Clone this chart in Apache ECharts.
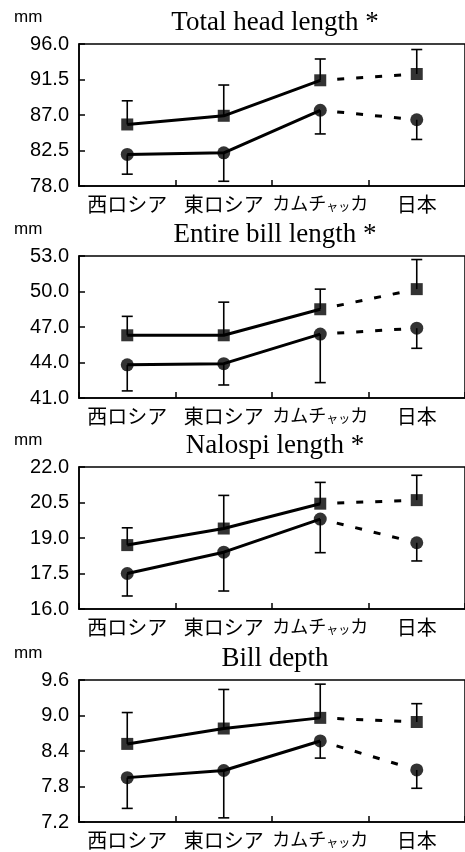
<!DOCTYPE html>
<html><head><meta charset="utf-8">
<script src="https://cdn.jsdelivr.net/npm/echarts@6/dist/echarts.min.js"></script>
<style>html,body{margin:0;padding:0;background:#fff}#c{width:465px;height:852px}</style>
</head><body><div id="c"></div>
<script>
// ---- data ----
const categories = ['西ロシア', '東ロシア', 'カムチャッカ', '日本'];
const titles = ['Total head length *', 'Entire bill length *', 'Nalospi length *', 'Bill depth'];
const unitLabel = 'mm';
const yMin = [78, 41, 16, 7.2];
const yMax = [96, 53, 22, 9.6];
const yStep = [4.5, 3, 1.5, 0.6];

// Total head length
const headSq = [85.8, 86.9, 91.4, 92.2];
const headSqSD = [3.0, 3.9, 2.7, 3.1];
const headCi = [82.0, 82.2, 87.6, 86.4];
const headCiSD = [2.5, 3.6, 3.0, 2.5];
// Entire bill length
const billSq = [46.3, 46.3, 48.5, 50.2];
const billSqSD = [1.6, 2.8, 1.7, 2.5];
const billCi = [43.8, 43.9, 46.4, 46.9];
const billCiSD = [2.2, 1.8, 4.1, 1.7];
// Nalospi length
const naloSq = [18.7, 19.4, 20.45, 20.6];
const naloSqSD = [0.73, 1.4, 0.9, 1.05];
const naloCi = [17.5, 18.4, 19.8, 18.8];
const naloCiSD = [0.95, 1.64, 1.42, 0.77];
// Bill depth
const depthSq = [8.52, 8.78, 8.96, 8.89];
const depthSqSD = [0.53, 0.66, 0.57, 0.31];
const depthCi = [7.95, 8.07, 8.57, 8.08];
const depthCiSD = [0.52, 0.80, 0.29, 0.31];

const panels = [
  { sq: headSq, sqSD: headSqSD, ci: headCi, ciSD: headCiSD },
  { sq: billSq, sqSD: billSqSD, ci: billCi, ciSD: billCiSD },
  { sq: naloSq, sqSD: naloSqSD, ci: naloCi, ciSD: naloCiSD },
  { sq: depthSq, sqSD: depthSqSD, ci: depthCi, ciSD: depthCiSD }
];

// ---- layout ----
const gridTops = [44, 256, 467, 680];
const gridLeft = 79, gridWidth = 389, gridHeight = 142;
const dashPattern = [0.01, 17, 7, 12, 7, 12, 7, 12, 7, 200];

const grids = [], xAxes = [], yAxes = [], series = [], graphics = [];

function errRender(params, api) {
  const p = api.coord([api.value(0), api.value(1)]);
  const e = api.coord([api.value(0), api.value(2)]);
  const st = { stroke: '#000', lineWidth: 1.6 };
  return {
    type: 'group',
    children: [
      { type: 'line', shape: { x1: p[0], y1: p[1], x2: e[0], y2: e[1] }, style: st },
      { type: 'line', shape: { x1: e[0] - 5.5, y1: e[1], x2: e[0] + 5.5, y2: e[1] }, style: st }
    ]
  };
}

panels.forEach((pd, k) => {
  grids.push({ left: gridLeft, top: gridTops[k], width: gridWidth, height: gridHeight,
    show: true, borderColor: '#000', borderWidth: 1.5, backgroundColor: 'transparent' });
  xAxes.push({
    type: 'category', gridIndex: k, data: categories, boundaryGap: true,
    axisLine: { show: true, lineStyle: { color: '#000', width: 1.5 } },
    axisTick: { show: true, inside: true, length: 6, interval: 0, lineStyle: { color: '#000', width: 1.5 } },
    axisLabel: {
      interval: 0, color: '#000', fontSize: 20, fontFamily: 'Noto Sans CJK JP', margin: 8,
      formatter: v => v === 'カムチャッカ' ? '{a|カムチ}{b|ャッ}{a|カ}' : v,
      rich: {
        a: { fontSize: 18, fontFamily: 'Noto Sans CJK JP', color: '#000' },
        b: { fontSize: 12, fontFamily: 'Noto Sans CJK JP', color: '#000', verticalAlign: 'bottom' }
      }
    },
    splitLine: { show: false }
  });
  yAxes.push({
    type: 'value', gridIndex: k, min: yMin[k], max: yMax[k], interval: yStep[k],
    axisLine: { show: true, lineStyle: { color: '#000', width: 1.5 } },
    axisTick: { show: true, inside: true, length: 6, lineStyle: { color: '#000', width: 1.5 } },
    axisLabel: { color: '#000', fontSize: 20, fontFamily: 'Liberation Sans', margin: 10,
      formatter: v => Number(v).toFixed(1) },
    splitLine: { show: false }
  });

  const sqErr = pd.sq.map((v, i) => [i, v, v + pd.sqSD[i]]);
  const ciErr = pd.ci.map((v, i) => [i, v, v - pd.ciSD[i]]);
  [sqErr, ciErr].forEach(d => series.push({
    type: 'custom', xAxisIndex: k, yAxisIndex: k, data: d, renderItem: errRender,
    encode: { x: 0, y: [1, 2] }, z: 2, silent: true
  }));

  [pd.sq, pd.ci].forEach((vals, j) => {
    series.push({
      type: 'line', xAxisIndex: k, yAxisIndex: k, symbol: 'none', z: 3,
      data: vals.map((v, i) => i < 3 ? v : '-'),
      lineStyle: { color: '#000', width: 3 }
    });
    series.push({
      type: 'line', xAxisIndex: k, yAxisIndex: k, symbol: 'none', z: 3,
      data: vals.map((v, i) => i >= 2 ? v : '-'),
      lineStyle: { color: '#000', width: 3, type: dashPattern, cap: 'butt' }
    });
    series.push({
      type: 'scatter', xAxisIndex: k, yAxisIndex: k, z: 4,
      symbol: j === 0 ? 'rect' : 'circle', symbolSize: j === 0 ? 12 : 13,
      itemStyle: { color: '#000' }, data: vals
    });
  });

  graphics.push({ type: 'text', x: 275, y: gridTops[k] - 21,
    style: { text: titles[k], font: '27px "Liberation Serif"', fill: '#000', align: 'center', verticalAlign: 'middle' } });
  graphics.push({ type: 'text', x: 14, y: gridTops[k] - 27,
    style: { text: unitLabel, font: '17px "Liberation Sans"', fill: '#000', align: 'left', verticalAlign: 'middle' } });
});

const chart = echarts.init(document.getElementById('c'), null, { renderer: 'canvas' });
chart.setOption({
  animation: false,
  backgroundColor: '#fff',
  grid: grids, xAxis: xAxes, yAxis: yAxes, series: series, graphic: graphics
});
</script>
</body></html>
